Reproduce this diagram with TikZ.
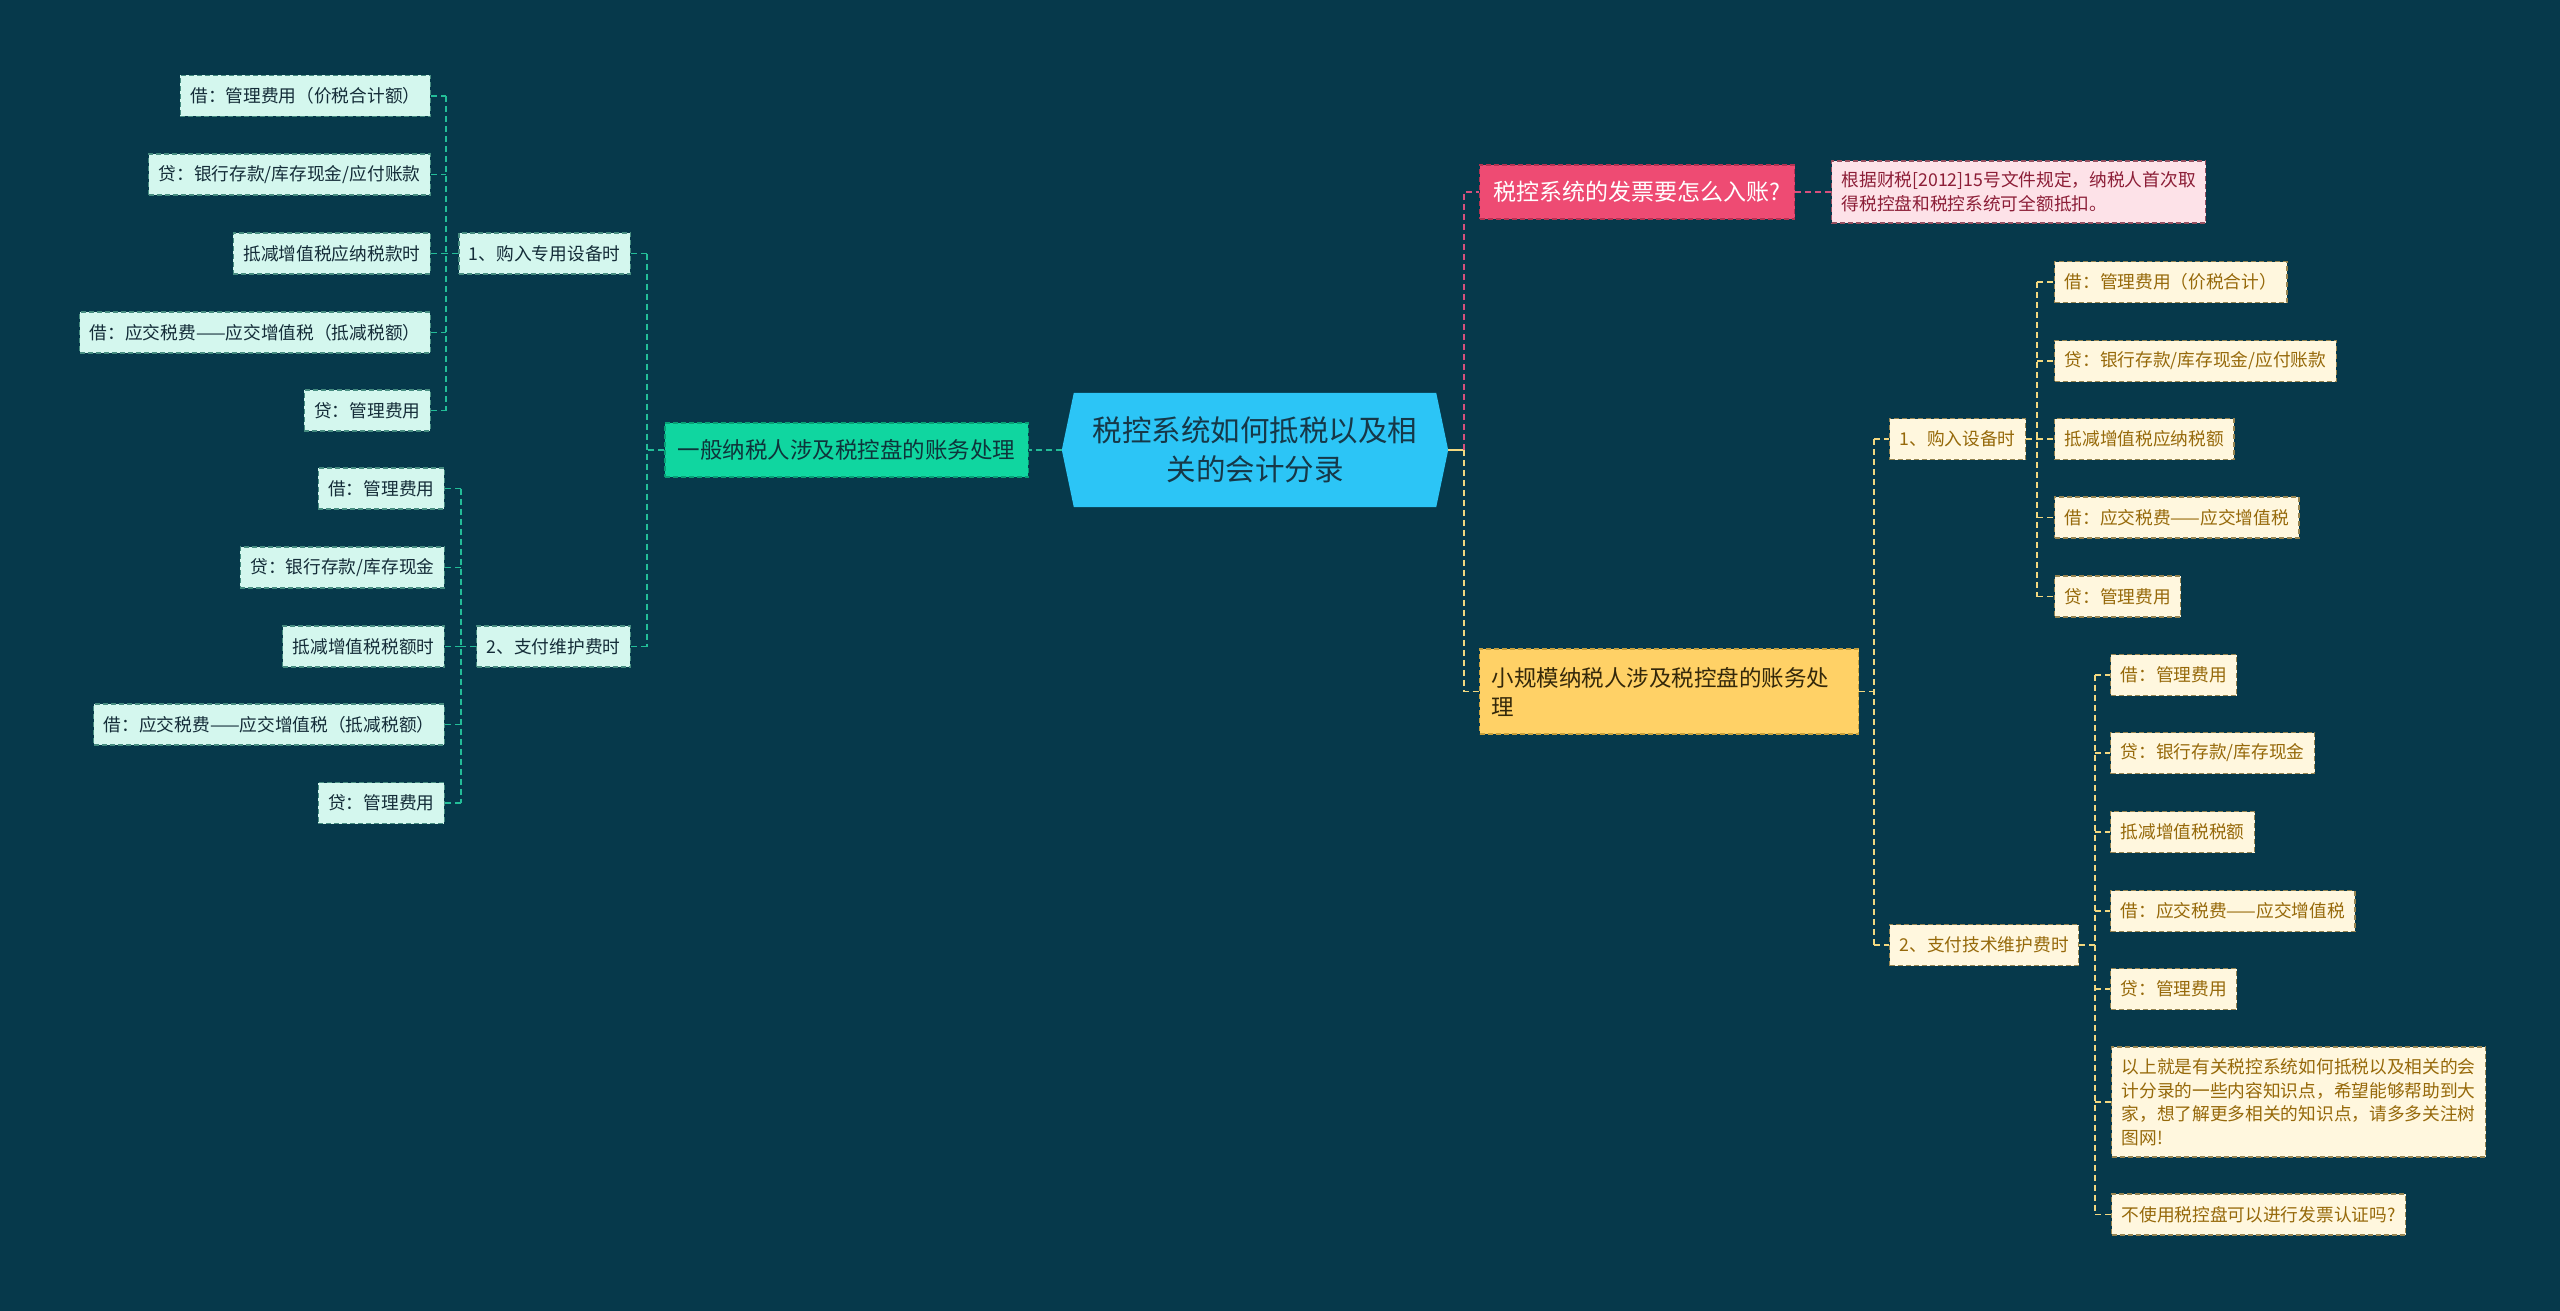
\documentclass[tikz,border=0pt]{standalone}
\usepackage{fontspec}
\setmainfont{Noto Sans CJK SC}
\usetikzlibrary{calc}
\definecolor{bgc}{RGB}{6,57,75}
\definecolor{rootfill}{RGB}{44,197,246}
\definecolor{roottext}{RGB}{22,56,72}
\definecolor{gfill}{RGB}{16,214,160}
\definecolor{gborder}{RGB}{8,160,118}
\definecolor{gtext}{RGB}{14,52,58}
\definecolor{lfill}{RGB}{212,247,238}
\definecolor{lborder}{RGB}{70,140,128}
\definecolor{ltext}{RGB}{20,44,56}
\definecolor{lline}{RGB}{35,190,152}
\definecolor{pfill}{RGB}{238,75,115}
\definecolor{pborder}{RGB}{180,50,82}
\definecolor{nfill}{RGB}{253,226,232}
\definecolor{nborder}{RGB}{150,80,96}
\definecolor{ntext}{RGB}{140,30,55}
\definecolor{pline}{RGB}{214,80,125}
\definecolor{yfill}{RGB}{255,209,102}
\definecolor{yborder}{RGB}{200,160,60}
\definecolor{ytext}{RGB}{52,40,10}
\definecolor{rfill}{RGB}{255,247,222}
\definecolor{rborder}{RGB}{150,132,80}
\definecolor{rtext}{RGB}{150,105,10}
\definecolor{yline}{RGB}{242,216,128}
\newcommand{\myfs}[2]{\fontsize{#1}{#2}\selectfont}
\pgfdeclarelayer{background}
\pgfsetlayers{background,main}
\tikzset{
  base/.style={inner ysep=0pt, inner xsep=10pt, minimum height=41pt, dash pattern=on 5pt off 3pt, line width=1.2pt},
  lleaf/.style={base, fill=lfill, draw=lborder, text=ltext, font=\myfs{17.7pt}{23pt}, anchor=east},
  rleaf/.style={base, fill=rfill, draw=rborder, text=rtext, font=\myfs{17.7pt}{23.5pt}, anchor=west},
  gnode/.style={base, fill=gfill, draw=gborder, text=gtext, font=\myfs{22.5pt}{29pt}, inner xsep=13pt, minimum height=54pt},
  pnode/.style={base, fill=pfill, draw=pborder, text=white, font=\myfs{23pt}{29pt}, inner xsep=14pt, minimum height=54pt, anchor=west},
  notenode/.style={base, fill=nfill, draw=nborder, text=ntext, font=\myfs{17.7pt}{24pt}, align=left, minimum height=62pt, anchor=west},
  ynode/.style={base, fill=yfill, draw=yborder, text=ytext, font=\myfs{22.5pt}{29pt}, inner xsep=12pt, text width=355pt, align=left, minimum height=85pt, anchor=west},
  rootnode/.style={inner sep=0pt, text=roottext, font=\myfs{29.5pt}{39pt}, align=center, minimum width=386pt, minimum height=114pt},
  lconn/.style={draw=lline, line width=1.6pt, dash pattern=on 6pt off 4pt},
  pconn/.style={draw=pline, line width=1.6pt, dash pattern=on 6pt off 4pt},
  yconn/.style={draw=yline, line width=1.6pt, dash pattern=on 6pt off 4pt},
}
\begin{document}
\begin{tikzpicture}[x=1pt,y=-1pt]
\useasboundingbox (0,0) rectangle (2560,1311);
\begin{pgfonlayer}{background}
\fill[bgc] (0,0) rectangle (2560,1311);
\end{pgfonlayer}

% root
\node[rootnode] (root) at (1255,450) {税控系统如何抵税以及相\\关的会计分录};
\begin{pgfonlayer}{background}
\fill[rootfill] (root.west) -- ([xshift=12pt]root.north west) -- ([xshift=-12pt]root.north east) -- (root.east) -- ([xshift=-12pt]root.south east) -- ([xshift=12pt]root.south west) -- cycle;
\end{pgfonlayer}

% left branch
\node[gnode, anchor=east] (g1) at (1029,450) {一般纳税人涉及税控盘的账务处理};
\node[base, fill=lfill, draw=lborder, text=ltext, font=\myfs{17.7pt}{23pt}, anchor=east] (a1) at (631,253.5) {1、购入专用设备时};
\node[base, fill=lfill, draw=lborder, text=ltext, font=\myfs{17.7pt}{23pt}, anchor=east] (a2) at (631,646.5) {2、支付维护费时};

\node[lleaf] (l11) at (431,96) {借：管理费用（价税合计额）};
\node[lleaf] (l12) at (431,174.5) {贷：银行存款/库存现金/应付账款};
\node[lleaf] (l13) at (431,253.5) {抵减增值税应纳税款时};
\node[lleaf] (l14) at (431,332.5) {借：应交税费——应交增值税（抵减税额）};
\node[lleaf] (l15) at (431,410.5) {贷：管理费用};

\node[lleaf] (l21) at (445,488.5) {借：管理费用};
\node[lleaf] (l22) at (445,567.5) {贷：银行存款/库存现金};
\node[lleaf] (l23) at (445,646.5) {抵减增值税税额时};
\node[lleaf] (l24) at (445,724.5) {借：应交税费——应交增值税（抵减税额）};
\node[lleaf] (l25) at (445,803) {贷：管理费用};

\coordinate (jm) at (647,450);
\coordinate (jl1) at (446,253.5);
\coordinate (jl2) at (461,646.5);

\draw[lconn] (root.west) -- (g1.east);
\draw[lconn] (g1.west) -- (jm);
\draw[lconn] (a1.east -| jm) -- (a2.east -| jm);
\draw[lconn] (a1.east) -- (a1.east -| jm);
\draw[lconn] (a2.east) -- (a2.east -| jm);

\draw[lconn] (a1.west) -- (jl1);
\draw[lconn] (l11.east -| jl1) -- (l15.east -| jl1);
\foreach \n in {l11,l12,l13,l14,l15} \draw[lconn] (\n.east) -- (\n.east -| jl1);
\draw[lconn] (a2.west) -- (jl2);
\draw[lconn] (l21.east -| jl2) -- (l25.east -| jl2);
\foreach \n in {l21,l22,l23,l24,l25} \draw[lconn] (\n.east) -- (\n.east -| jl2);

% right branch
\node[pnode] (p1) at (1479,192) {税控系统的发票要怎么入账?};
\node[notenode] (n1) at (1831,192) {根据财税[2012]15号文件规定，纳税人首次取\\得税控盘和税控系统可全额抵扣。};
\node[ynode] (s1) at (1479,691.5) {小规模纳税人涉及税控盘的账务处\\理};

\node[rleaf] (a3) at (1889,439) {1、购入设备时};
\node[rleaf] (a4) at (1889,945) {2、支付技术维护费时};

\node[rleaf] (r11) at (2054,282) {借：管理费用（价税合计）};
\node[rleaf] (r12) at (2054,361) {贷：银行存款/库存现金/应付账款};
\node[rleaf] (r13) at (2054,439) {抵减增值税应纳税额};
\node[rleaf] (r14) at (2054,517.5) {借：应交税费——应交增值税};
\node[rleaf] (r15) at (2054,596.5) {贷：管理费用};

\node[rleaf] (r21) at (2110,675) {借：管理费用};
\node[rleaf] (r22) at (2110,753) {贷：银行存款/库存现金};
\node[rleaf] (r23) at (2110,832) {抵减增值税税额};
\node[rleaf] (r24) at (2110,911) {借：应交税费——应交增值税};
\node[rleaf] (r25) at (2110,989) {贷：管理费用};
\node[rleaf, align=left, minimum height=110pt] (r26) at (2111,1102) {以上就是有关税控系统如何抵税以及相关的会\\计分录的一些内容知识点，希望能够帮助到大\\家，想了解更多相关的知识点，请多多关注树\\图网!};
\node[rleaf] (r27) at (2111,1214.5) {不使用税控盘可以进行发票认证吗?};

\coordinate (jr) at (1464,450);
\coordinate (js) at (1874,691.5);
\coordinate (jr1) at (2037,439);
\coordinate (jr2) at (2095,945);

\draw[draw=yline, line width=2.4pt] (root.east) -- (jr);
\draw[pconn] (jr) -- (jr |- p1.west) -- (p1.west);
\draw[pconn] (p1.east) -- (n1.west);
\draw[yconn] (jr) -- (jr |- s1.west) -- (s1.west);

\draw[yconn] (s1.east) -- (js);
\draw[yconn] (a3.west -| js) -- (a4.west -| js);
\draw[yconn] (a3.west -| js) -- (a3.west);
\draw[yconn] (a4.west -| js) -- (a4.west);

\draw[yconn] (a3.east) -- (jr1);
\draw[yconn] (r11.west -| jr1) -- (r15.west -| jr1);
\foreach \n in {r11,r12,r13,r14,r15} \draw[yconn] (\n.west -| jr1) -- (\n.west);
\draw[yconn] (a4.east) -- (jr2);
\draw[yconn] (r21.west -| jr2) -- (r27.west -| jr2);
\foreach \n in {r21,r22,r23,r24,r25,r26,r27} \draw[yconn] (\n.west -| jr2) -- (\n.west);
\end{tikzpicture}
\end{document}
